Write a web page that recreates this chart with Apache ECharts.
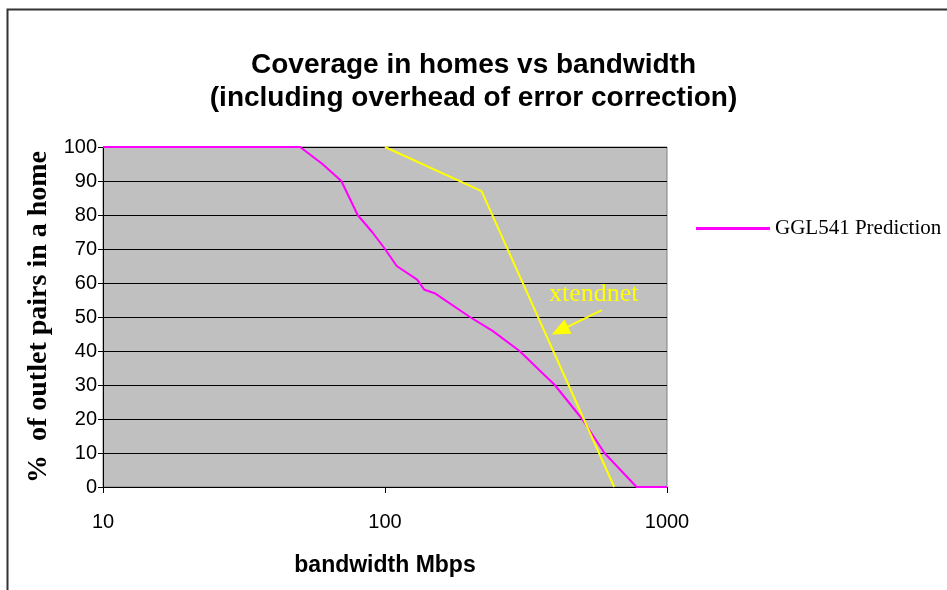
<!DOCTYPE html>
<html>
<head>
<meta charset="utf-8">
<script src="https://cdn.jsdelivr.net/npm/echarts@6/dist/echarts.min.js"></script>
<style>
  html, body { margin: 0; padding: 0; background: #fff; }
  #chart { width: 947px; height: 590px; }
</style>
</head>
<body>
<div id="chart"></div>
<script>
// GGL541 prediction (magenta)
const gglBandwidth = [10, 50, 60, 70, 80, 90, 100, 110, 130, 138, 150, 200, 240, 300, 400, 500, 600, 780, 1000]
const gglCoverage = [100, 100, 95, 90, 80, 75, 70, 65, 61, 58, 57, 50, 46, 40, 30, 20, 10, 0, 0]

// xtendnet (yellow)
const xtBandwidth = [100, 220, 650]
const xtCoverage = [100, 87, 0]

// arrow pointing at the xtendnet line: [start, tip]
const arrowFrom = [587, 52]
const arrowTo = [417, 46]

const yTicks = [0, 10, 20, 30, 40, 50, 60, 70, 80, 90, 100]

const chart = echarts.init(document.getElementById('chart'))

const option = {
  backgroundColor: '#fff',
  animation: false,
  title: {
    text: 'Coverage in homes vs bandwidth\n(including overhead of error correction)',
    left: 'center',
    top: 44,
    textStyle: {
      fontFamily: 'Arial, "Liberation Sans", sans-serif',
      fontSize: 28,
      fontWeight: 'bold',
      color: '#000',
      lineHeight: 33
    }
  },
  legend: {
    data: ['GGL541 Prediction'],
    left: 691,
    top: 213,
    icon: 'rect',
    itemWidth: 74,
    itemHeight: 3,
    itemGap: 5,
    textStyle: {
      fontFamily: '"Liberation Serif", "Times New Roman", serif',
      fontSize: 21,
      color: '#000',
      padding: [22, 0, 0, 0]
    }
  },
  grid: {
    left: 103,
    right: 280,
    top: 147,
    bottom: 103,
    show: true,
    backgroundColor: '#C0C0C0',
    borderColor: '#808080',
    borderWidth: 1
  },
  xAxis: {
    type: 'log',
    logBase: 10,
    min: 10,
    max: 1000,
    name: 'bandwidth Mbps',
    nameLocation: 'middle',
    nameGap: 67,
    nameTextStyle: {
      fontFamily: 'Arial, "Liberation Sans", sans-serif',
      fontSize: 23,
      fontWeight: 'bold',
      color: '#000'
    },
    axisLine: { lineStyle: { color: '#000', width: 1 } },
    axisTick: { show: true, length: 6, lineStyle: { color: '#000' } },
    minorTick: { show: false },
    splitLine: { show: false },
    axisLabel: {
      margin: 25,
      formatter: v => String(Math.round(v)),
      fontFamily: 'Arial, "Liberation Sans", sans-serif',
      fontSize: 20,
      color: '#000'
    }
  },
  yAxis: {
    type: 'value',
    min: yTicks[0],
    max: yTicks[yTicks.length - 1],
    interval: 10,
    name: '%  of outlet pairs in a home',
    nameLocation: 'middle',
    nameGap: 50,
    nameTextStyle: {
      fontFamily: '"Liberation Serif", "Times New Roman", serif',
      fontSize: 28,
      fontWeight: 'bold',
      color: '#000'
    },
    axisLine: { show: true, lineStyle: { color: '#000', width: 1 } },
    axisTick: { show: true, length: 5, lineStyle: { color: '#000' } },
    splitLine: { show: true, lineStyle: { color: '#000', width: 1 } },
    axisLabel: {
      margin: 6,
      fontFamily: 'Arial, "Liberation Sans", sans-serif',
      fontSize: 20,
      color: '#000'
    }
  },
  series: [
    {
      name: 'GGL541 Prediction',
      type: 'line',
      data: gglBandwidth.map((x, i) => [x, gglCoverage[i]]),
      showSymbol: false,
      symbol: 'none',
      lineStyle: { color: '#FF00FF', width: 2 },
      itemStyle: { color: '#FF00FF' }
    },
    {
      name: 'xtendnet',
      type: 'line',
      data: xtBandwidth.map((x, i) => [x, xtCoverage[i]]),
      showSymbol: false,
      symbol: 'none',
      lineStyle: { color: '#FFFF00', width: 2 },
      itemStyle: { color: '#FFFF00' },
      markLine: {
        silent: true,
        symbol: ['none', 'triangle'],
        symbolSize: [16, 18],
        lineStyle: { color: '#FFFF00', width: 2, type: 'solid' },
        label: { show: false },
        data: [[{ coord: arrowFrom }, { coord: arrowTo }]]
      },
      markPoint: {
        silent: true,
        symbol: 'circle',
        symbolSize: 1,
        itemStyle: { color: 'rgba(0,0,0,0)' },
        data: [{ coord: arrowFrom }],
        label: {
          show: true,
          formatter: 'xtendnet',
          position: 'inside',
          offset: [-8, -16],
          fontFamily: '"Liberation Serif", "Times New Roman", serif',
          fontSize: 26,
          color: '#FFFF00'
        }
      }
    }
  ],
  graphic: [
    {
      type: 'rect',
      left: 5,
      top: 7,
      shape: { width: 960, height: 600 },
      style: { fill: 'none', stroke: '#333', lineWidth: 2 },
      silent: true
    }
  ]
}

chart.setOption(option)
</script>
</body>
</html>
